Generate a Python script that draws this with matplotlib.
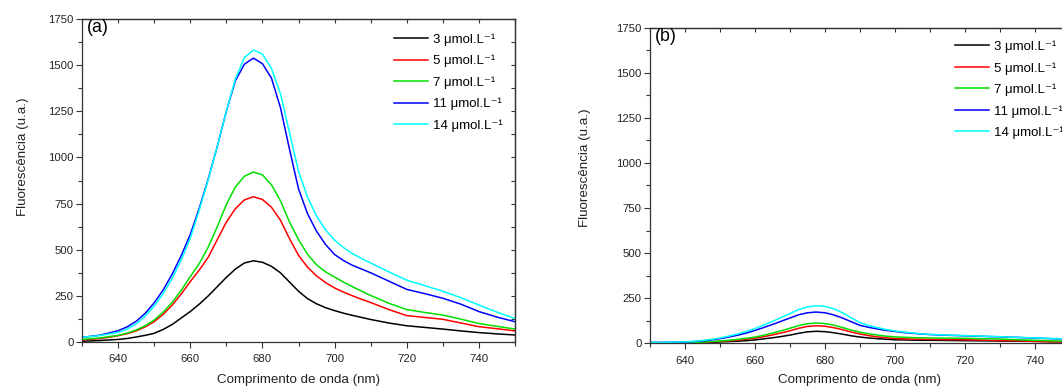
import matplotlib
matplotlib.use("Agg")
import matplotlib.pyplot as plt
from matplotlib.ticker import MultipleLocator

plt.rcParams['font.family'] = ['Liberation Sans', 'DejaVu Sans']

# ---------------- data ----------------
wavelength = [630, 635, 640, 642.5, 645, 647.5, 650, 652.5, 655, 657.5, 660, 662.5,
              665, 667.5, 670, 672.5, 675, 677.5, 680, 682.5, 685, 687.5, 690, 692.5,
              695, 697.5, 700, 702.5, 705, 707.5, 710, 715, 720, 725, 730, 735, 740,
              745, 750]

labels = ["3 μmol.L⁻¹", "5 μmol.L⁻¹", "7 μmol.L⁻¹", "11 μmol.L⁻¹", "14 μmol.L⁻¹"]
colors = ["#000000", "#ff0000", "#00e000", "#0000ff", "#00ffff"]

# panel (a)
a_3 = [4, 8, 14, 19, 27, 36, 47, 68, 95, 130, 165, 205, 250, 300, 350, 395, 428, 440,
       432, 410, 375, 325, 275, 235, 207, 186, 170, 156, 144, 133, 122, 103, 88, 79,
       70, 60, 51, 44, 38]
a_5 = [11, 18, 34, 45, 60, 82, 110, 150, 200, 260, 327, 390, 460, 555, 650, 722, 770,
       787, 772, 730, 660, 560, 470, 405, 358, 322, 293, 270, 250, 231, 214, 176, 143,
       133, 123, 103, 83, 72, 60]
a_7 = [14, 22, 36, 48, 65, 88, 119, 162, 215, 280, 354, 425, 515, 625, 745, 840, 898,
       921, 905, 852, 765, 650, 555, 475, 418, 380, 352, 324, 299, 275, 252, 210, 176,
       160, 146, 124, 100, 85, 70]
a_11 = [25, 37, 61, 82, 112, 155, 212, 282, 368, 468, 582, 725, 885, 1060, 1250, 1415,
        1505, 1538, 1508, 1430, 1270, 1045, 830, 695, 600, 528, 474, 441, 415, 395, 375,
        330, 285, 262, 237, 205, 165, 135, 110]
a_14 = [25, 35, 52, 70, 98, 140, 195, 262, 345, 445, 562, 715, 880, 1060, 1250, 1425,
        1540, 1582, 1560, 1482, 1345, 1135, 925, 785, 683, 607, 552, 511, 478, 452, 428,
        380, 335, 305, 275, 240, 200, 162, 127]

# panel (b)
b_3 = [0, 0, 1, 2, 3, 4, 6, 8, 10, 13, 17, 23, 29, 36, 44, 54, 62, 65, 63, 57, 49, 40,
       33, 28, 24, 21, 18, 17, 16, 15, 15, 14, 13, 12, 11, 10, 9, 7, 6]
b_5 = [1, 1, 2, 3, 4, 6, 9, 12, 16, 21, 27, 35, 45, 56, 68, 82, 92, 96, 93, 85, 74, 61,
       50, 41, 34, 29, 25, 23, 22, 21, 20, 19, 18, 16, 14, 12, 9, 7, 6]
b_7 = [1, 1, 2, 3, 5, 8, 11, 15, 20, 26, 33, 43, 55, 68, 82, 97, 107, 111, 108, 99, 86,
       72, 60, 51, 44, 38, 34, 32, 30, 29, 28, 27, 26, 24, 22, 18, 15, 12, 10]
b_11 = [3, 4, 5, 8, 12, 17, 24, 33, 43, 55, 70, 86, 103, 121, 139, 157, 168, 172, 168,
        156, 139, 118, 98, 87, 78, 70, 64, 58, 54, 50, 47, 43, 40, 37, 34, 31, 27, 24, 21]
b_14 = [3, 4, 6, 9, 14, 20, 28, 38, 50, 64, 80, 100, 120, 142, 163, 186, 201, 207, 203,
        190, 168, 140, 113, 97, 85, 75, 67, 61, 56, 51, 48, 44, 41, 38, 35, 31, 28, 25, 22]

series_a = [a_3, a_5, a_7, a_11, a_14]
series_b = [b_3, b_5, b_7, b_11, b_14]

# ---------------- figure ----------------
W, H = 1062, 390
fig = plt.figure(figsize=(W / 100, H / 100), dpi=100)


def fpos(x0, x1, ytop, ybot):
    return [x0 / W, 1 - ybot / H, (x1 - x0) / W, (ybot - ytop) / H]


ax1 = fig.add_axes(fpos(82, 515, 19, 342))
ax2 = fig.add_axes(fpos(650, 1070, 28, 343))

spine_color = "#333333"


def style(ax, tag, ylab_x, ylab_y, leg_x, leg_y):
    ax.set_xlim(630, 750)
    ax.set_ylim(0, 1750)
    ax.xaxis.set_major_locator(MultipleLocator(20))
    ax.xaxis.set_minor_locator(MultipleLocator(10))
    ax.yaxis.set_major_locator(MultipleLocator(250))
    ax.yaxis.set_minor_locator(MultipleLocator(125))
    ax.tick_params(which='major', direction='out', length=4, width=0.8,
                   colors=spine_color, labelcolor='#222222', labelsize=8.2, pad=2)
    ax.tick_params(which='minor', direction='out', length=3, width=0.8, colors=spine_color)
    ax.tick_params(axis='x', which='major', pad=5)
    for s in ax.spines.values():
        s.set_color(spine_color)
        s.set_linewidth(0.9)
    # mirrored inward ticks on top / right
    sx = ax.secondary_xaxis('top')
    sx.xaxis.set_major_locator(MultipleLocator(20))
    sx.xaxis.set_minor_locator(MultipleLocator(10))
    sx.tick_params(which='both', direction='in', length=3, width=0.8,
                   colors=spine_color, labeltop=False)
    sx.spines['top'].set_color(spine_color)
    sx.spines['top'].set_linewidth(0.9)
    sy = ax.secondary_yaxis('right')
    sy.yaxis.set_major_locator(MultipleLocator(250))
    sy.yaxis.set_minor_locator(MultipleLocator(125))
    sy.tick_params(which='both', direction='in', length=3, width=0.8,
                   colors=spine_color, labelright=False)
    sy.spines['right'].set_color(spine_color)
    sy.spines['right'].set_linewidth(0.9)

    ax.set_xlabel("Comprimento de onda (nm)", fontsize=9.6, color='#222222')
    ax.set_ylabel("Fluorescência (u.a.)", fontsize=9.6, color='#222222')
    ax.yaxis.set_label_coords(ylab_x, ylab_y)
    ax.xaxis.set_label_coords(0.5, -0.1)
    ax.text(0.012, 1.0, tag, transform=ax.transAxes, fontsize=12.8,
            ha='left', va='top')
    ax.legend(loc='upper left', bbox_to_anchor=(leg_x, leg_y), frameon=False,
              fontsize=9.5, handlelength=2.6, handletextpad=0.35,
              labelspacing=0.68, borderpad=0, borderaxespad=0)


for vals, lab, col in zip(series_a, labels, colors):
    ax1.plot(wavelength, vals, color=col, lw=1.1, label=lab)
for vals, lab, col in zip(series_b, labels, colors):
    ax2.plot(wavelength, vals, color=col, lw=1.1, label=lab)

style(ax1, "(a)", -0.122, 0.573, 0.72, 0.956)
style(ax2, "(b)", -0.141, 0.556, 0.726, 0.960)

fig.savefig("out.png", dpi=100)
